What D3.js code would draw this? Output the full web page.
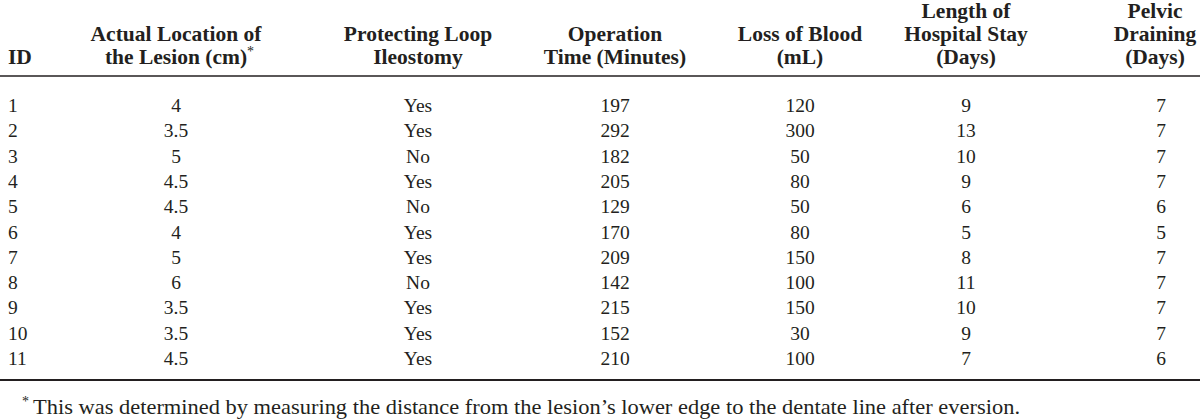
<!DOCTYPE html>
<html><head><meta charset="utf-8">
<script src="https://cdn.jsdelivr.net/npm/d3@7"></script>
<style>
html,body{margin:0;padding:0;background:#fff;}
svg{display:block;}
text{font-family:"Liberation Serif","Times New Roman",serif;fill:#231f20;}
</style></head>
<body>
<svg id="chart" width="1200" height="419"></svg>
<script>
const ids = ["1","2","3","4","5","6","7","8","9","10","11"];
const lesionLocation = ["4","3.5","5","4.5","4.5","4","5","6","3.5","3.5","4.5"];
const loopIleostomy = ["Yes","Yes","No","Yes","No","Yes","Yes","No","Yes","Yes","Yes"];
const operationTime = [197,292,182,205,129,170,209,142,215,152,210];
const bloodLoss = [120,300,50,80,50,80,150,100,150,30,100];
const hospitalStay = [9,13,10,9,6,5,8,11,10,9,7];
const pelvicDraining = [7,7,7,7,6,5,7,7,7,7,6];
const headers = [
  ["ID"],
  ["Actual Location of","the Lesion (cm)"],
  ["Protecting Loop","Ileostomy"],
  ["Operation","Time (Minutes)"],
  ["Loss of Blood","(mL)"],
  ["Length of","Hospital Stay","(Days)"],
  ["Pelvic","Draining","(Days)"]
];
const footnote = "This was determined by measuring the distance from the lesion\u2019s lower edge to the dentate line after eversion.";

const columns = [ids, lesionLocation, loopIleostomy, operationTime, bloodLoss, hospitalStay, pelvicDraining];
const colX = [8, 176, 418, 615, 800, 966, 1161];
const headX = [8, 176, 418, 615, 800, 966, 1155];
const colAnchor = ["start","middle","middle","middle","middle","middle","middle"];

const svg = d3.select("#chart");
const W = 1200;
const fs = 19.5;
const hfs = 21.5;

// header
const headerLineY = d3.scalePoint().domain([0,1,2]).range([18,64]);
headers.forEach((lines, c) => {
  const n = lines.length;
  const t = svg.append("text")
    .attr("text-anchor", colAnchor[c])
    .attr("font-weight", "bold")
    .attr("font-size", hfs);
  lines.forEach((ln, i) => {
    t.append("tspan").attr("x", headX[c]).attr("y", headerLineY(3 - n + i)).text(ln);
  });
});
// footnote marker on the lesion header
svg.append("text").attr("x", 247).attr("y", 56).attr("font-size", 14).text("*");

// rules
svg.append("line").attr("x1",0).attr("x2",W).attr("y1",76).attr("y2",76).attr("stroke","#231f20").attr("stroke-width",1.5);
svg.append("line").attr("x1",0).attr("x2",W).attr("y1",380).attr("y2",380).attr("stroke","#231f20").attr("stroke-width",2);

// body
const y = d3.scalePoint().domain(ids).range([112, 365]);
columns.forEach((col, c) => {
  svg.append("g").selectAll("text").data(col).join("text")
    .attr("x", colX[c])
    .attr("y", (d, i) => y(ids[i]))
    .attr("text-anchor", colAnchor[c])
    .attr("font-size", fs)
    .text(d => d);
});

// footnote
svg.append("text").attr("x", 22).attr("y", 406).attr("font-size", 14).text("*");
svg.append("text").attr("x", 33).attr("y", 414).attr("font-size", 21.5)
  .attr("textLength", 987).attr("lengthAdjust", "spacingAndGlyphs")
  .text(footnote);
</script>
</body></html>
